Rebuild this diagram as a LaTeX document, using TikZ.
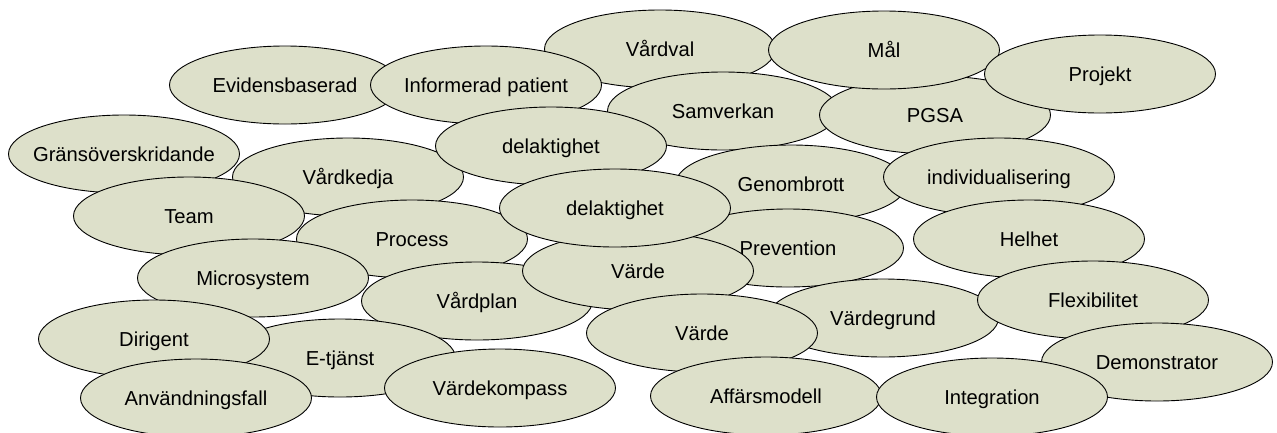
\documentclass[tikz,border=0pt]{standalone}
\usepackage{fontspec}
\setmainfont{Liberation Sans}
\usetikzlibrary{shapes.geometric}
\definecolor{blobfill}{RGB}{221,224,202}
\newcommand{\wordtxt}[1]{\makebox[0pt]{#1}}
\begin{document}
\begin{tikzpicture}[x=1pt,y=-1pt,
  blob/.style={ellipse, draw=black, line width=0.9pt, fill=blobfill,
    minimum width=231pt, minimum height=78pt, inner sep=0pt,
    font=\fontsize{20.2pt}{24pt}\selectfont, text=black,
    text height=18.3pt, text depth=4.3pt}]
\useasboundingbox (0,0) rectangle (1277,432);
\node[blob] (evid) at (285,85) {\wordtxt{Evidensbaserad}};
\node[blob] (vardval) at (660,49) {\wordtxt{Vårdval}};
\node[blob] (inform) at (486,85) {\wordtxt{Informerad patient}};
\node[blob] (samv) at (723,111) {\wordtxt{Samverkan}};
\node[blob] (pgsa) at (935,115) {\wordtxt{PGSA}};
\node[blob] (mal) at (884,50) {\wordtxt{Mål}};
\node[blob] (proj) at (1100,74) {\wordtxt{Projekt}};
\node[blob] (genom) at (791,184) {\wordtxt{Genombrott}};
\node[blob] (indiv) at (999,177) {\wordtxt{individualisering}};
\node[blob] (helhet) at (1029,239) {\wordtxt{Helhet}};
\node[blob] (vkedja) at (348,177) {\wordtxt{Vårdkedja}};
\node[blob] (grans) at (124,154) {\wordtxt{Gränsöverskridande}};
\node[blob] (delak1) at (551,146) {\wordtxt{delaktighet}};
\node[blob] (process) at (412,239) {\wordtxt{Process}};
\node[blob] (team) at (189,216) {\wordtxt{Team}};
\node[blob] (micro) at (253,278) {\wordtxt{Microsystem}};
\node[blob] (vplan) at (477,301) {\wordtxt{Vårdplan}};
\node[blob] (prev) at (788,248) {\wordtxt{Prevention}};
\node[blob] (varde1) at (638,271) {\wordtxt{Värde}};
\node[blob] (delak2) at (615,208) {\wordtxt{delaktighet}};
\node[blob] (vgrund) at (883,318) {\wordtxt{Värdegrund}};
\node[blob] (varde2) at (702,333) {\wordtxt{Värde}};
\node[blob] (flex) at (1093,300) {\wordtxt{Flexibilitet}};
\node[blob] (demo) at (1157,362) {\wordtxt{Demonstrator}};
\node[blob] (affar) at (766,396) {\wordtxt{Affärsmodell}};
\node[blob] (integ) at (992,397) {\wordtxt{Integration}};
\node[blob] (etj) at (340,358) {\wordtxt{E-tjänst}};
\node[blob] (dirig) at (154,339) {\wordtxt{Dirigent}};
\node[blob] (anvand) at (196,398) {\wordtxt{Användningsfall}};
\node[blob] (vkomp) at (500,388) {\wordtxt{Värdekompass}};
\end{tikzpicture}
\end{document}
